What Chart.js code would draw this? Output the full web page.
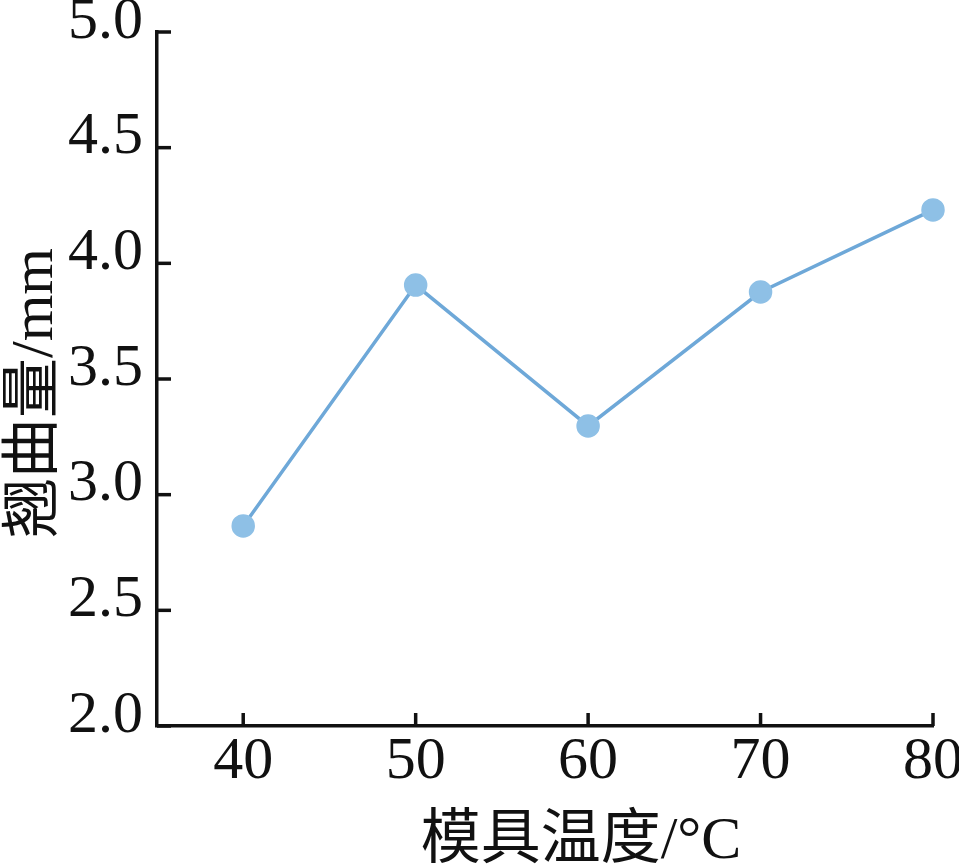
<!DOCTYPE html>
<html>
<head>
<meta charset="utf-8">
<script src="https://cdn.jsdelivr.net/npm/chart.js@4/dist/chart.umd.min.js"></script>
<style>
  html, body { margin: 0; padding: 0; background: #fff; }
  #wrap { width: 959px; height: 866px; position: relative; }
</style>
</head>
<body>
<div id="wrap"><canvas id="warp-chart"></canvas></div>
<script>
// mold temperature (°C) vs warpage (mm)
const moldTemps = [40, 50, 60, 70, 80];
const warpage = [2.865, 3.906, 3.297, 3.876, 4.231];
const xTickValues = [40, 50, 60, 70, 80];
const yTickValues = [2.0, 2.5, 3.0, 3.5, 4.0, 4.5, 5.0];
const xTitle = "模具温度/°C";
const yTitle = "翘曲量/mm";

const serif = "'Liberation Serif', 'Noto Sans CJK SC', serif";
const ink = "#111111";

// ticks point into the plot, titles placed by hand
const axisDecor = {
  id: "axisDecor",
  afterDraw(chart) {
    const { ctx, chartArea, scales } = chart;
    ctx.save();
    ctx.strokeStyle = ink;
    ctx.lineWidth = 3.5;
    for (const v of yTickValues) {
      const y = scales.y.getPixelForValue(v);
      ctx.beginPath();
      ctx.moveTo(chartArea.left, y);
      ctx.lineTo(chartArea.left + 14, y);
      ctx.stroke();
    }
    for (const v of xTickValues) {
      const x = scales.x.getPixelForValue(v);
      ctx.beginPath();
      ctx.moveTo(x, chartArea.bottom);
      ctx.lineTo(x, chartArea.bottom - 13);
      ctx.stroke();
    }
    ctx.fillStyle = ink;
    ctx.font = `60px ${serif}`;
    ctx.textAlign = "center";
    ctx.textBaseline = "alphabetic";
    ctx.fillText(xTitle, 581, 858);
    ctx.translate(52, 393);
    ctx.rotate(-Math.PI / 2);
    ctx.fillText(yTitle, 0, 0);
    ctx.restore();
  },
};

const chartConfig = {
  type: "line",
  data: {
    datasets: [
      {
        data: moldTemps.map((t, i) => ({ x: t, y: warpage[i] })),
        borderColor: "#6ea8d8",
        borderWidth: 3.5,
        pointBackgroundColor: "#8ec0e6",
        pointBorderColor: "#8ec0e6",
        pointRadius: 10,
        tension: 0,
        clip: false,
      },
    ],
  },
  options: {
    responsive: true,
    maintainAspectRatio: false,
    animation: false,
    layout: { padding: { top: 32, right: 26, left: 0, bottom: 0 } },
    plugins: { legend: { display: false }, tooltip: { enabled: false } },
    scales: {
      x: {
        type: "linear",
        min: 35,
        max: 80,
        afterBuildTicks: (s) => { s.ticks = xTickValues.map((v) => ({ value: v })); },
        afterFit: (s) => {
          s.height = 140;
          s.paddingLeft = 0;
          s.paddingRight = 0;
        },
        grid: { display: false, drawTicks: false },
        border: { color: ink, width: 3.5 },
        ticks: { color: ink, padding: 0, font: { family: serif, size: 60 }, maxRotation: 0 },
      },
      y: {
        min: 2,
        max: 5,
        afterBuildTicks: (s) => { s.ticks = yTickValues.map((v) => ({ value: v })); },
        afterFit: (s) => {
          s.width = 157;
          s.paddingTop = 0;
          s.paddingBottom = 0;
        },
        grid: { display: false, drawTicks: false },
        border: { color: ink, width: 3.5 },
        ticks: {
          color: ink,
          padding: 14,
          font: { family: serif, size: 60, lineHeight: "20px" },
          // second empty line lifts the label a little above its tick
          callback: (v) => [Number(v).toFixed(1), ""],
        },
      },
    },
  },
  plugins: [axisDecor],
};

new Chart(document.getElementById("warp-chart"), chartConfig);
</script>
</body>
</html>
